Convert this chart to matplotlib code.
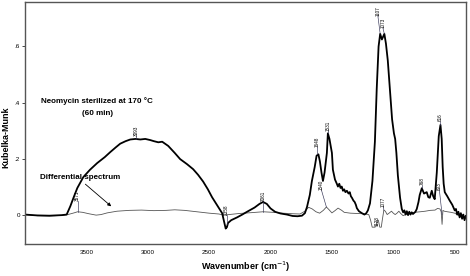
import matplotlib
matplotlib.use("Agg")
import matplotlib.pyplot as plt

plt.rcParams['font.family'] = ['Liberation Sans', 'DejaVu Sans']

# Thick curve: Neomycin sterilized at 170 °C (60 min)
thick_wn = [4000, 3900, 3800, 3700, 3660, 3630, 3600, 3573, 3524, 3470, 3411, 3350, 3305, 3260, 3224,
            3180, 3142, 3100, 3060, 3020, 2980, 2950, 2914, 2882, 2833, 2780, 2736, 2680, 2630, 2590,
            2549, 2510, 2476, 2430, 2394, 2375, 2365, 2355, 2346, 2320, 2272, 2230, 2191, 2130, 2090,
            2061, 2030, 2000, 1963, 1920, 1866, 1820, 1780, 1744, 1720, 1703, 1680, 1663, 1640, 1625,
            1610, 1598, 1585, 1573, 1560, 1541, 1533, 1520, 1500, 1492, 1475, 1460, 1451, 1440, 1430,
            1420, 1410, 1400, 1390, 1378, 1365, 1355, 1345, 1337, 1325, 1315, 1305, 1297, 1280, 1256,
            1235, 1220, 1207, 1190, 1170, 1150, 1135, 1120, 1107, 1093, 1073, 1060, 1045, 1028, 1010,
            995, 985, 975, 963, 945, 931, 920, 910, 900, 890, 880, 870, 860, 850, 840, 830, 820, 809,
            795, 785, 768, 750, 728, 715, 703, 687, 675, 663, 646, 630, 616, 606, 598, 590, 581, 560,
            541, 520, 500, 490, 480, 470, 460, 450, 440, 430, 420, 410]
thick_km = [0.0, -0.003, -0.004, -0.002, 0.0, 0.03, 0.065, 0.095, 0.134, 0.16, 0.184, 0.205, 0.223, 0.24, 0.253,
            0.262, 0.268, 0.27, 0.268, 0.27, 0.266, 0.262, 0.258, 0.26, 0.245, 0.22, 0.198, 0.18, 0.162, 0.142,
            0.118, 0.09, 0.062, 0.03, 0.005, -0.03, -0.05, -0.045, -0.03, -0.02, -0.01, 0.0, 0.01, 0.025, 0.038,
            0.045, 0.038, 0.022, 0.01, 0.004, 0.0, -0.005, -0.006, -0.004, 0.005, 0.027, 0.07, 0.12, 0.17, 0.21,
            0.215, 0.19, 0.15, 0.12, 0.15, 0.22, 0.29, 0.27, 0.22, 0.16, 0.125, 0.11, 0.1, 0.11, 0.095,
            0.1, 0.085, 0.09, 0.08, 0.085, 0.075, 0.08, 0.065, 0.06, 0.05, 0.045, 0.035, 0.023, 0.012, 0.005,
            0.0, 0.005, 0.015, 0.04, 0.12, 0.26, 0.45, 0.6, 0.645, 0.625, 0.645, 0.61, 0.55, 0.45, 0.34,
            0.29, 0.27, 0.22, 0.14, 0.06, 0.02, 0.008, 0.015, 0.0, 0.012, -0.002, 0.01, 0.0, 0.008, 0.002, 0.006, 0.01, 0.02,
            0.045, 0.07, 0.094, 0.075, 0.08, 0.062, 0.06, 0.085, 0.065, 0.055, 0.15, 0.28, 0.32, 0.27, 0.17, 0.11, 0.08, 0.065,
            0.05, 0.035, 0.015, 0.02, 0.0, 0.01, -0.01, 0.005, -0.015, 0.0, -0.02, -0.005]

# Thin curve: differential spectrum
thin_wn = [4000, 3900, 3800, 3700, 3650, 3600, 3571, 3530, 3480, 3420, 3380, 3330, 3250, 3150, 3050,
           2950, 2850, 2780, 2700, 2600, 2500, 2420, 2380, 2340, 2250, 2150, 2061, 1980, 1900, 1820,
           1760, 1720, 1690, 1660, 1630, 1600, 1570, 1545, 1525, 1500, 1475, 1450, 1420, 1400, 1350,
           1300, 1250, 1200, 1185, 1172, 1150, 1140, 1132, 1122, 1110, 1098, 1090, 1077, 1065, 1050,
           1035, 1015, 1000, 985, 970, 955, 940, 920, 900, 870, 830, 780, 740, 700, 660, 640, 620, 610,
           603, 596, 585, 560, 530, 500, 480, 460, 440, 420, 410]
thin_km = [0.0, -0.004, -0.005, -0.003, 0.0, 0.006, 0.01, 0.008, 0.003, -0.002, 0.0, 0.006, 0.012, 0.015, 0.016,
           0.014, 0.015, 0.017, 0.015, 0.01, 0.005, 0.002, -0.002, 0.0, 0.004, 0.007, 0.01, 0.008, 0.005, 0.003,
           0.002, 0.012, 0.026, 0.02, 0.01, 0.005, 0.015, 0.027, 0.018, 0.006, 0.014, 0.023, 0.015, 0.008, 0.005,
           0.004, 0.003, 0.0, -0.02, -0.045, -0.045, -0.042, -0.02, -0.02, -0.045, -0.045, -0.02, 0.016, 0.012, 0.0,
           0.005, 0.012, 0.005, 0.0, 0.005, 0.012, 0.004, -0.004, 0.0, 0.005, 0.008, 0.01, 0.012, 0.015, 0.016, 0.022, 0.02, 0.01,
           -0.035, 0.015, 0.012, 0.01, 0.008, 0.005, 0.0, -0.005, 0.0, -0.01, -0.005]

# Peak annotations
ann_labels = ["3571", "3093", "2358", "2061", "1648", "1531", "1540", "1128", "1077", "1107", "1073", "768", "616", "603"]
ann_pt_x = [3571, 3093, 2358, 2061, 1620, 1533, 1545, 1134, 1077, 1107, 1073, 768, 616, 603]
ann_pt_y = [0.01, 0.27, -0.035, 0.01, 0.215, 0.29, 0.027, -0.005, 0.016, 0.645, 0.645, 0.094, 0.32, 0.0]
ann_tx_x = [3571, 3093, 2358, 2061, 1620, 1533, 1585, 1134, 1080, 1126, 1085, 768, 616, 625]
ann_tx_y = [0.05, 0.28, 0.0, 0.048, 0.24, 0.298, 0.087, -0.005, 0.027, 0.71, 0.666, 0.105, 0.335, 0.088]

xticks = [3500, 3000, 2500, 2000, 1500, 1000, 500]
yticks = [0, 0.2, 0.4, 0.6]
ytick_labels = ["0", ".2", ".4", ".6"]

fig = plt.figure(figsize=(4.70, 2.76), dpi=100)
ax = fig.add_axes([0.053, 0.116, 0.938, 0.877])

ax.plot(thin_wn, thin_km, color='#555555', lw=0.6)
ax.plot(thick_wn, thick_km, color='black', lw=1.3)

for lab, px, py, tx, ty in zip(ann_labels, ann_pt_x, ann_pt_y, ann_tx_x, ann_tx_y):
    va = 'top' if lab == "1128" else 'bottom'
    ax.text(tx, ty, lab, rotation=90, ha='center', va=va, fontsize=3.3, color='black')
    if lab != "1128":
        ax.plot([px, tx], [py, ty], color='#333355', lw=0.45)

ax.text(3410, 0.405, "Neomycin sterilized at 170 °C", ha='center', va='center',
        fontsize=5.8, fontweight='bold')
ax.text(3410, 0.36, "(60 min)", ha='center', va='center', fontsize=5.8, fontweight='bold')
ax.text(3550, 0.134, "Differential spectrum", ha='center', va='center',
        fontsize=5.8, fontweight='bold')
ax.annotate("", xy=(3280, 0.023), xytext=(3525, 0.115),
            arrowprops=dict(arrowstyle='-|>', color='black', lw=0.6, mutation_scale=5))

ax.set_xlim(4000, 410)
ax.set_ylim(-0.105, 0.759)
ax.set_xticks(xticks)
ax.set_xticklabels([str(t) for t in xticks], fontsize=4.5)
ax.set_yticks(yticks)
ax.set_yticklabels(ytick_labels, fontsize=4.5)
ax.tick_params(axis='x', length=0, pad=4)
ax.tick_params(axis='y', length=2, width=0.5, pad=1.5)
for s in ax.spines.values():
    s.set_color('#555555')
    s.set_linewidth(1.0)

ax.set_xlabel("Wavenumber (cm$^{-1}$)", fontsize=6.5, fontweight='bold', labelpad=4)
ax.set_ylabel("Kubelka-Munk", fontsize=6.5, fontweight='bold')
ax.yaxis.set_label_coords(-0.034, 0.44)

fig.savefig("out.png", dpi=100)
